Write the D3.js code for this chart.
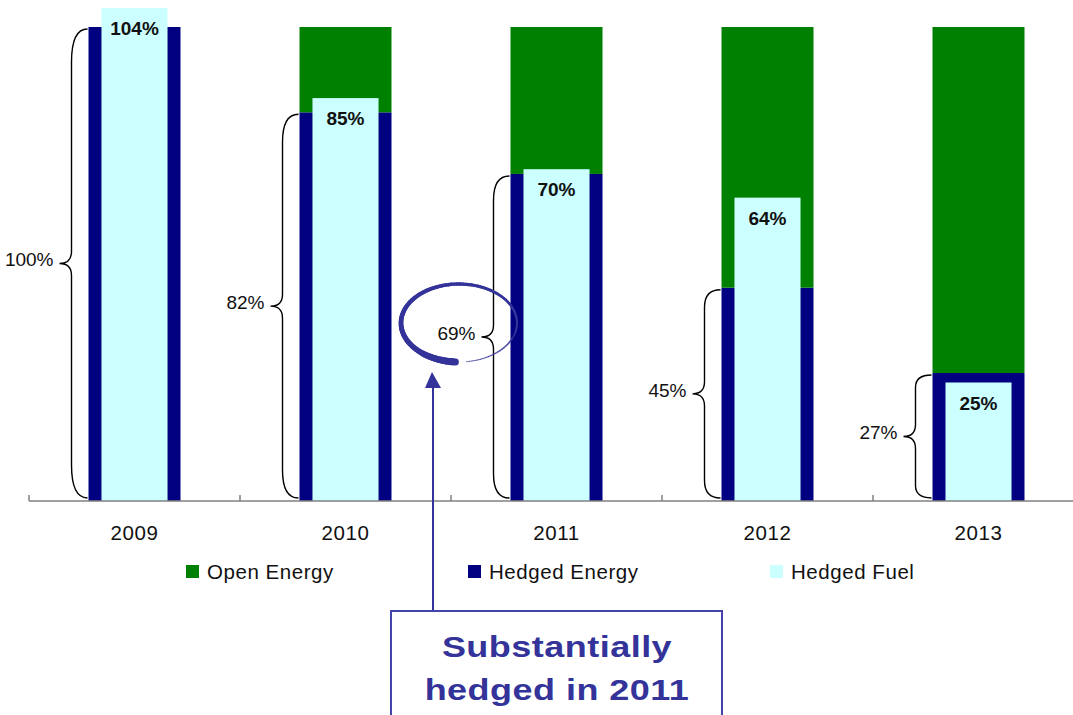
<!DOCTYPE html>
<html>
<head>
<meta charset="utf-8">
<script src="https://cdn.jsdelivr.net/npm/d3@7"></script>
<style>
  html, body { margin: 0; padding: 0; background: #fff; }
  svg { display: block; font-family: "Liberation Sans", Arial, sans-serif; }
</style>
</head>
<body>
<svg id="chart" width="1073" height="715"></svg>
<script>
// Hedging profile by year (% of expected generation)
const years = ["2009", "2010", "2011", "2012", "2013"];
const hedgedEnergy = [100, 82, 69, 45, 27];
const openEnergy = [0, 18, 31, 55, 73];
const hedgedFuel = [104, 85, 70, 64, 25];

const seriesNames = ["Open Energy", "Hedged Energy", "Hedged Fuel"];
const seriesColors = ["#008000", "#000080", "#CCFFFF"];

const calloutLines = ["Substantially", "hedged in 2011"];
const highlightYear = "2011";

const svg = d3.select("#chart");

const x = d3.scaleBand().domain(years).range([29, 1084]).padding(0);
const y = d3.scaleLinear().domain([0, 100]).range([501, 27]);

const barW = x.bandwidth() * 0.436;
const fuelW = x.bandwidth() * 0.313;

const rows = years.map((yr, i) => ({
  year: yr, hedged: hedgedEnergy[i], open: openEnergy[i], fuel: hedgedFuel[i]
}));

// Stacked energy bars: hedged at the bottom, open on top
const stack = d3.stack().keys(["hedged", "open"]);
const stacked = stack(rows);
const stackColor = { hedged: seriesColors[1], open: seriesColors[0] };

svg.append("g").selectAll("g")
  .data(stacked)
  .join("g")
  .attr("fill", d => stackColor[d.key])
  .selectAll("rect")
  .data(d => d)
  .join("rect")
  .attr("x", d => x(d.data.year) + (x.bandwidth() - barW) / 2)
  .attr("y", d => y(d[1]))
  .attr("width", barW)
  .attr("height", d => y(d[0]) - y(d[1]));

// Hedged fuel bars, drawn narrower on top of the energy bars
svg.append("g").selectAll("rect")
  .data(rows)
  .join("rect")
  .attr("fill", seriesColors[2])
  .attr("x", d => x(d.year) + (x.bandwidth() - fuelW) / 2)
  .attr("y", d => y(d.fuel))
  .attr("width", fuelW)
  .attr("height", d => y(0) - y(d.fuel));

// Fuel value labels
svg.append("g").selectAll("text")
  .data(rows)
  .join("text")
  .attr("x", d => x(d.year) + x.bandwidth() / 2)
  .attr("y", d => y(d.fuel) + 27)
  .attr("text-anchor", "middle")
  .attr("font-weight", "bold")
  .attr("font-size", 19)
  .attr("fill", "#111")
  .text(d => d.fuel + "%");

// Curly braces showing hedged energy share
function bracePath(xr, yTop, yBot, xv, xt, ym) {
  const h = yBot - yTop;
  const r = Math.min(34, 0.06 * h + 5);
  const rm = Math.min(12, r);
  return `M${xr},${yTop} Q${xv},${yTop} ${xv},${yTop + r} L${xv},${ym - rm} Q${xv},${ym} ${xt},${ym}` +
         ` Q${xv},${ym} ${xv},${ym + rm} L${xv},${yBot - r} Q${xv},${yBot} ${xr},${yBot}`;
}

const braces = svg.append("g");
rows.forEach(d => {
  const left = x(d.year) + (x.bandwidth() - barW) / 2;
  const yTop = y(d.hedged) + 2;
  const yBot = y(0) - 3;
  const ym = (yTop + yBot) / 2;
  const xv = left - 17, xt = left - 29;
  braces.append("path")
    .attr("d", bracePath(left - 1, yTop, yBot, xv, xt, ym))
    .attr("fill", "none")
    .attr("stroke", "#000")
    .attr("stroke-width", 1.4);
  braces.append("text")
    .attr("x", xt - 6)
    .attr("y", ym - 4)
    .attr("dy", "0.35em")
    .attr("text-anchor", "end")
    .attr("font-size", 19)
    .attr("fill", "#111")
    .text(d.hedged + "%");
});

// Category axis
const axisY = y(0);
const axis = svg.append("g");
axis.append("line")
  .attr("x1", x.range()[0]).attr("x2", x.range()[1])
  .attr("y1", axisY).attr("y2", axisY)
  .attr("stroke", "#808080").attr("stroke-width", 1.5);
const edges = years.map(v => x(v)).concat([x.range()[1]]);
axis.selectAll("line.tick")
  .data(edges)
  .join("line")
  .attr("class", "tick")
  .attr("x1", d => d).attr("x2", d => d)
  .attr("y1", axisY).attr("y2", axisY - 6)
  .attr("stroke", "#808080").attr("stroke-width", 1.5);
axis.selectAll("text")
  .data(years)
  .join("text")
  .attr("x", d => x(d) + x.bandwidth() / 2)
  .attr("y", 540)
  .attr("text-anchor", "middle")
  .attr("font-size", 20.5)
  .attr("letter-spacing", 0.6)
  .attr("fill", "#111")
  .text(d => d);

// Legend
const legendX = [186, 468, 770];
const legend = svg.append("g");
seriesNames.forEach((name, i) => {
  legend.append("rect")
    .attr("x", legendX[i]).attr("y", 565)
    .attr("width", 13).attr("height", 13)
    .attr("fill", seriesColors[i]);
  legend.append("text")
    .attr("x", legendX[i] + 21).attr("y", 579)
    .attr("font-size", 20.5)
    .attr("letter-spacing", 0.55)
    .attr("fill", "#111")
    .text(name);
});

// Hand-drawn ring around the 2011 hedged share
const accent = "#333399";
const ringCx = x(highlightYear) + 8, ringCy = 323, ringRx = 58, ringRy = 39;
const ring = svg.append("g");
const steps = 120;
const a0 = Math.PI * 0.52, a1 = Math.PI * 0.52 + Math.PI * 2 * 0.97;
for (let k = 0; k < steps; k++) {
  const f0 = k / steps, f1 = (k + 1) / steps;
  const t0 = a0 + (a1 - a0) * f0;
  const t1 = a0 + (a1 - a0) * f1;
  const w = f0 < 0.1 ? 7 - 10 * f0 : 6 - 5.2 * f0;
  ring.append("line")
    .attr("x1", ringCx + ringRx * Math.cos(t0)).attr("y1", ringCy + ringRy * Math.sin(t0))
    .attr("x2", ringCx + ringRx * Math.cos(t1)).attr("y2", ringCy + ringRy * Math.sin(t1))
    .attr("stroke", accent)
    .attr("stroke-width", w)
    .attr("stroke-linecap", "round")
    .attr("opacity", f0 > 0.8 ? 0.75 : 1);
}

// Call-out arrow and box
const arrowX = 433;
svg.append("line")
  .attr("x1", arrowX).attr("x2", arrowX)
  .attr("y1", 611).attr("y2", 386)
  .attr("stroke", accent).attr("stroke-width", 2);
svg.append("path")
  .attr("d", `M${arrowX - 8},${388} L${arrowX - 1},${372} L${arrowX + 8},${388} Z`)
  .attr("fill", accent);

svg.append("rect")
  .attr("x", 391).attr("y", 611)
  .attr("width", 331).attr("height", 120)
  .attr("fill", "#fff")
  .attr("stroke", "#4444a8").attr("stroke-width", 2);
// Callout text is set in a widened bold face
const calloutCx = 557;
svg.append("g")
  .attr("transform", `translate(${calloutCx},0) scale(1.2,1)`)
  .selectAll("text")
  .data(calloutLines)
  .join("text")
  .attr("x", 0)
  .attr("y", (d, i) => 657 + i * 43)
  .attr("text-anchor", "middle")
  .attr("font-weight", "bold")
  .attr("font-size", 30)
  .attr("letter-spacing", 0.4)
  .attr("fill", accent)
  .text(d => d);
</script>
</body>
</html>
